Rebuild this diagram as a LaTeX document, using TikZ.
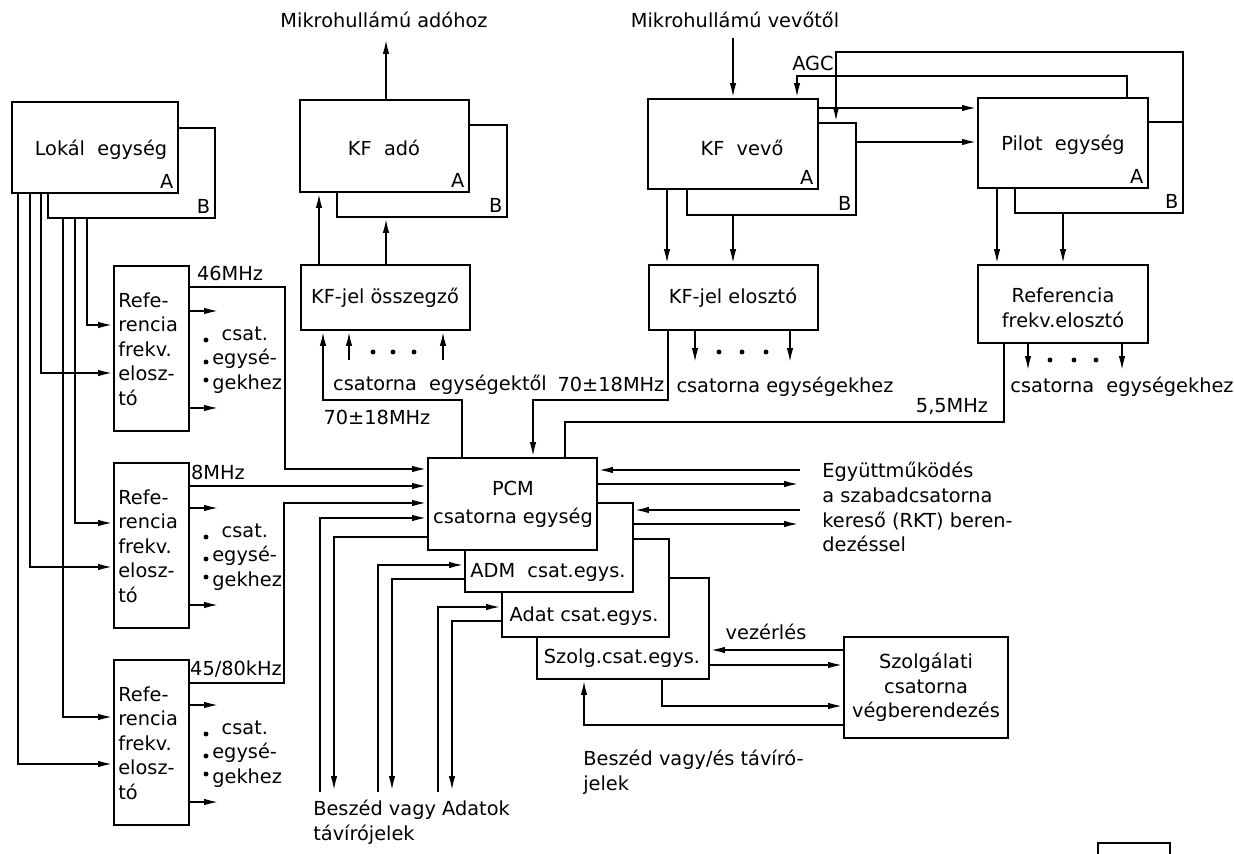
\documentclass[tikz,border=0pt]{standalone}
\usepackage{fontspec}
\setmainfont{DejaVu Sans}
\usetikzlibrary{arrows.meta,fit}

\tikzset{
  blk/.style={draw, line width=1.3pt, inner sep=0pt, outer sep=0pt},
  wire/.style={line width=1.3pt},
  sig/.style={line width=1.3pt, -{Latex[length=9pt,width=3.6pt]}},
  txt/.style={inner sep=0pt, font=\fontsize{11}{14}\selectfont, align=left},
  tag/.style={inner sep=2.5pt, font=\fontsize{11}{12}\selectfont, anchor=south east},
}

\begin{document}
\begin{tikzpicture}[x=0.02cm, y=-0.02cm]
\useasboundingbox (0,0) rectangle (1234,854);

% upper row: A units with their B twins
\node[blk, fit={(12,102) (178,193)}] (lokA) {};
\coordinate (lokB) at (215,218);
\draw[wire] (lokA.east |- 0,128) -| (lokB) -| (48,0 |- lokA.south);
\node[txt] (loktxt) at (101,150) {Lokál\ \ egység};
\node[tag] (lokAl) at (lokA.south east) {A};
\node[tag] (lokBl) at (lokB) {B};

\node[blk, fit={(300,100) (469,192)}] (kfaA) {};
\coordinate (kfaB) at (507,217);
\draw[wire] (kfaA.east |- 0,125) -| (kfaB) -| (337,0 |- kfaA.south);
\node[txt] (kfatxt) at (384,148) {KF\ \ adó};
\node[tag] (kfaAl) at (kfaA.south east) {A};
\node[tag] (kfaBl) at (kfaB) {B};

\node[blk, fit={(648,99) (818,189)}] (kfvA) {};
\coordinate (kfvB) at (856,215);
\draw[wire] (kfvA.east |- 0,123) -| (kfvB) -| (687,0 |- kfvA.south);
\node[txt] (kfvtxt) at (742,148) {KF\ \ vevő};
\node[tag] (kfvAl) at (kfvA.south east) {A};
\node[tag] (kfvBl) at (kfvB) {B};

\node[blk, fit={(978,98) (1148,188)}] (pilA) {};
\coordinate (pilB) at (1183,213);
\draw[wire] (pilA.east |- 0,122) -| (pilB) -| (1015,0 |- pilA.south);
\node[txt] (piltxt) at (1063,145) {Pilot\ \ egység};
\node[tag] (pilAl) at (pilA.south east) {A};
\node[tag] (pilBl) at (pilB) {B};

% microwave side
\node[txt] (mta) at (384,20) {Mikrohullámú adóhoz};
\node[txt] (mtv) at (735,20) {Mikrohullámú vevőtől};
\draw[sig] (386,0 |- kfaA.north) -- (386,38);
\draw[sig] (733,38) -- (733,0 |- kfvA.north);

% IF summing / distributing
\node[blk, fit={(301,265) (470,330)}] (osz) {};
\node[txt] (osztxt) at (385,298) {KF-jel összegző};
\node[blk, fit={(649,265) (818,330)}] (elo) {};
\node[txt] (elotxt) at (733,298) {KF-jel elosztó};
\node[blk, fit={(978,265) (1148,343)}] (rfe) {};
\node[txt, align=center] (rfetxt) at (1063,308) {Referencia\\frekv.elosztó};

\draw[sig] (319,0 |- osz.north) -- (319,0 |- kfaA.south);
\draw[sig] (386,0 |- osz.north) -- (kfaB -| 386,0);
\draw[sig] (667,0 |- kfvA.south) -- (667,0 |- elo.north);
\draw[sig] (kfvB -| 733,0) -- (733,0 |- elo.north);
\draw[sig] (997,0 |- pilA.south) -- (997,0 |- rfe.north);
\draw[sig] (pilB -| 1063,0) -- (1063,0 |- rfe.north);

% AGC and pilot feeds
\node[txt] (agc) at (813,63) {AGC};
\draw[sig] (1127,0 |- pilA.north) |- (797,76) -- (797,0 |- kfvA.north);
\draw[sig] (pilB |- 0,122) |- (836,52) -- (836,123);
\draw[sig] (kfvA.east |- 0,108) -- (pilA.west |- 0,108);
\draw[sig] (kfvB |- 0,142) -- (pilA.west |- 0,142);

% channel unit fan in / fan out
\draw[sig] (349,360) -- (349,0 |- osz.south);
\draw[sig] (443,360) -- (443,0 |- osz.south);
\foreach \x in {373,393,414} \fill (\x,352) circle (1.4pt);
\draw[sig] (695,0 |- elo.south) -- (695,364);
\draw[sig] (790,0 |- elo.south) -- (790,364);
\foreach \x in {719,742,766} \fill (\x,352) circle (1.4pt);
\draw[sig] (1028,0 |- rfe.south) -- (1028,372);
\draw[sig] (1122,0 |- rfe.south) -- (1122,372);
\foreach \x in {1050,1074,1096} \fill (\x,360) circle (1.4pt);

\node[txt] (csegt) at (440,385) {csatorna\ \ egységektől};
\node[txt] (csegh1) at (785,387) {csatorna\ egységekhez};
\node[txt] (csegh2) at (1122,387) {csatorna\ \ egységekhez};
\node[txt] (f70a) at (377,417) {70±18MHz};
\node[txt] (f70b) at (611,384) {70±18MHz};
\node[txt] (f55) at (952,407) {5,5MHz};

% PCM channel unit and its stacked units
\node[blk, fit={(428,458) (597,550)}] (pcm) {};
\node[txt, align=center] (pcmtxt) at (513,504) {PCM\\[2pt]csatorna egység};
\draw[wire] (pcm.east |- 0,503) -| (633,592) -| (465,0 |- pcm.south);
\node[txt] (admtxt) at (548,572) {ADM\ \ csat.egys.};
\draw[wire] (633,539) -| (669,637) -| (502,592);
\node[txt] (adattxt) at (584,616) {Adat csat.egys.};
\draw[wire] (669,578) -| (709,679) -| (537,637);
\node[txt] (szotxt) at (622,658) {Szolg.csat.egys.};

\draw[sig] (462,0 |- pcm.north) |- (323,400) -- (323,0 |- osz.south);
\draw[sig] (668,0 |- elo.south) |- (533,400) -- (533,0 |- pcm.north);
\draw[wire] (1004,0 |- rfe.south) |- (565,422) -- (565,0 |- pcm.north);

% left: local unit and reference distributors
\foreach \i/\yt in {1/266, 2/463, 3/660} {
  \node[blk, fit={(114,\yt) (189,\yt+165)}] (ref\i) {};
  \node[txt, anchor=west] (reftxt\i) at (118,\yt+83) {Refe-\\rencia\\frekv.\\elosz-\\tó};
  \draw[sig] (ref\i.east |- 0,\yt+45) -- (220,\yt+45);
  \draw[sig] (ref\i.east |- 0,\yt+142) -- (220,\yt+142);
  \node[txt, anchor=west] (cs\i) at (212,\yt+94) {\ \,csat.\\egysé-\\gekhez};
  \foreach \d in {74,96,114} \fill (206,\yt+\d) circle (1.4pt);
}

\draw[sig] (18,0 |- lokA.south) |- (ref3.west |- 0,764);
\draw[sig] (30,0 |- lokA.south) |- (ref2.west |- 0,567);
\draw[sig] (41,0 |- lokA.south) |- (ref1.west |- 0,373);
\draw[sig] (63,0 |- lokB) |- (ref3.west |- 0,717);
\draw[sig] (75,0 |- lokB) |- (ref2.west |- 0,523);
\draw[sig] (87,0 |- lokB) |- (ref1.west |- 0,325);

\draw[sig] (ref1.east |- 0,287) -| (285,469) -- (pcm.west |- 0,469);
\draw[sig] (ref2.east |- 0,486) -- (pcm.west |- 0,486);
\draw[sig] (ref3.east |- 0,683) -| (284,503) -- (pcm.west |- 0,503);
\node[txt] (f46) at (230,273) {46MHz};
\node[txt] (f8) at (218,472) {8MHz};
\node[txt] (f45) at (236,669) {45/80kHz};

% speech / data lines at the bottom
\draw[sig] (320,792) |- (pcm.west |- 0,518);
\draw[sig] (pcm.west |- 0,537) -| (334,792);
\draw[sig] (378,792) |- (465,565);
\draw[sig] (465,579) -| (392,792);
\draw[sig] (438,792) |- (502,607);
\draw[sig] (502,621) -| (452,792);
\node[txt, anchor=north west] (bsz) at (313,800) {Beszéd vagy Adatok\\távírójelek};

% RKT cooperation
\node[txt, anchor=north west] (rkt) at (822,462) {Együttműködés\\a szabadcsatorna\\kereső (RKT) beren-\\dezéssel};
\coordinate (rktL) at (800,470);
\draw[sig] (rktL) -- (pcm.east |- rktL);
\draw[sig] (pcm.east |- 0,484) -- (rktL |- 0,484);
\draw[sig] (rktL |- 0,510) -- (633,510);
\draw[sig] (633,524) -- (rktL |- 0,524);

% service channel terminal
\node[blk, fit={(844,637) (1008,738)}] (szv) {};
\node[txt, align=center] (szvtxt) at (szv.center) {Szolgálati\\csatorna\\végberendezés};
\node[txt] (vez) at (766,632) {vezérlés};
\draw[sig] (szv.west |- 0,650) -- (709,650);
\draw[sig] (709,665) -- (szv.west |- 0,665);
\draw[sig] (662,679) |- (szv.west |- 0,706);
\draw[sig] (szv.west |- 0,725) -| (584,679);
\node[txt, anchor=north west] (bvt) at (583,750) {Beszéd vagy/és távíró-\\jelek};

\draw[line width=0.6pt] (1098,854) |- (1170,843) -- (1170,854);
\end{tikzpicture}
\end{document}
